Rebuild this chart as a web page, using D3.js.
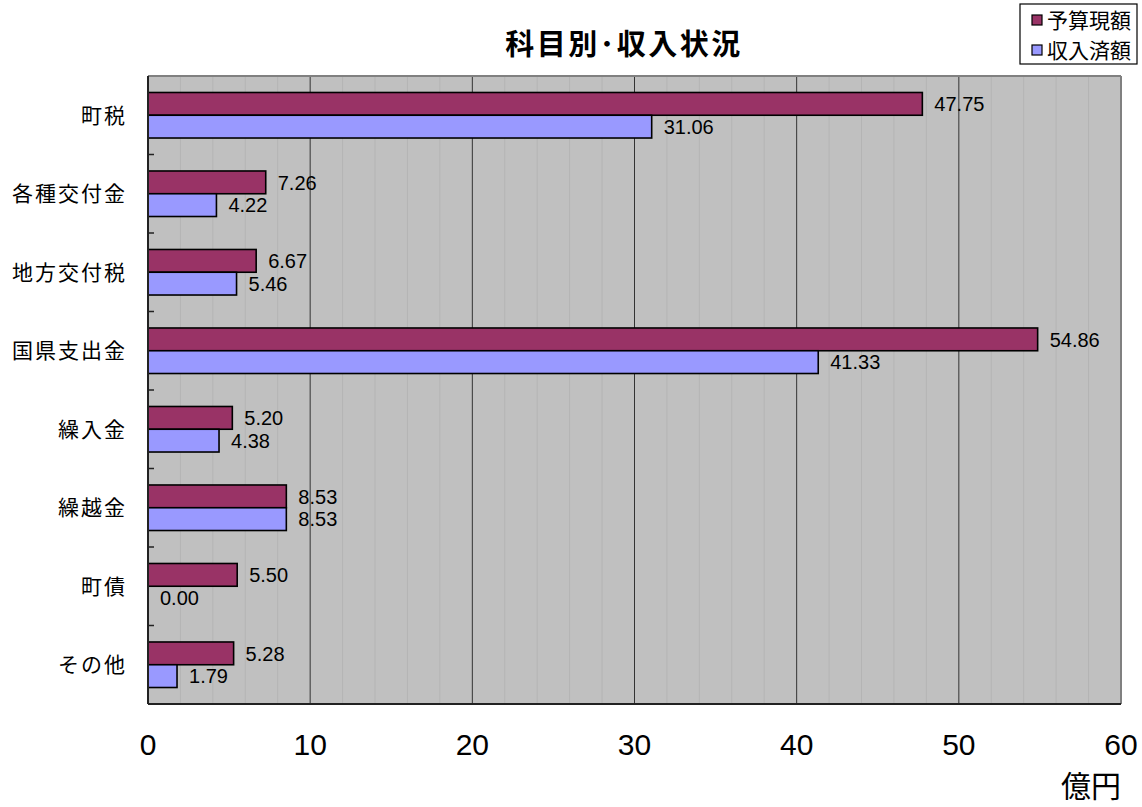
<!DOCTYPE html>
<html><head><meta charset="utf-8">
<script src="https://cdn.jsdelivr.net/npm/d3@7"></script>
<style>body{margin:0;background:#fff;} text{font-family:"Noto Sans CJK JP","Noto Sans",sans-serif;} .num{font-family:"Liberation Sans",Arial,sans-serif;}</style>
</head><body>
<svg id="c" width="1142" height="807"></svg>
<script>
const categories = ["町税","各種交付金","地方交付税","国県支出金","繰入金","繰越金","町債","その他"];
const seriesNames = ["予算現額","収入済額"];
const budget = [47.75,7.26,6.67,54.86,5.20,8.53,5.50,5.28];
const received = [31.06,4.22,5.46,41.33,4.38,8.53,0.00,1.79];
const xTicks = [0,10,20,30,40,50,60];
const colors = ["#993366","#9999FF"];

const svg = d3.select("#c");
const L=148, R=1121, T=76, B=704;
const x = d3.scaleLinear().domain([0,60]).range([L,R]);
const y = d3.scaleBand().domain(categories).range([T,B]);
const inner = d3.scaleBand().domain([0,1]).range([0,y.bandwidth()*0.58]);
const off = y.bandwidth()*0.21;

svg.append("rect").attr("x",L).attr("y",T).attr("width",R-L).attr("height",B-T).attr("fill","#c0c0c0");
// minor grid
svg.append("g").selectAll("line").data(d3.range(0,61,2).filter(v=>v%10!==0)).join("line")
  .attr("x1",d=>x(d)).attr("x2",d=>x(d)).attr("y1",T).attr("y2",B)
  .attr("stroke","#b4b4b4").attr("stroke-width",1);
// major grid
svg.append("g").selectAll("line").data(xTicks.filter(v=>v>0&&v<60)).join("line")
  .attr("x1",d=>x(d)).attr("x2",d=>x(d)).attr("y1",T).attr("y2",B)
  .attr("stroke","#333").attr("stroke-width",1);
// top/right borders
svg.append("line").attr("x1",L).attr("x2",R).attr("y1",T).attr("y2",T).attr("stroke","#808080").attr("stroke-width",2);
svg.append("line").attr("x1",R).attr("x2",R).attr("y1",T).attr("y2",B).attr("stroke","#808080").attr("stroke-width",2);

const data = categories.map((c,i)=>({c, vals:[budget[i],received[i]]}));
const g = svg.append("g").selectAll("g").data(data).join("g")
  .attr("transform",d=>`translate(0,${y(d.c)+off})`);
g.selectAll("rect").data(d=>d.vals.map((v,k)=>({v,k}))).join("rect")
  .attr("x",x(0)).attr("y",d=>inner(d.k)).attr("width",d=>x(d.v)-x(0)).attr("height",inner.bandwidth())
  .attr("fill",d=>colors[d.k]).attr("stroke","#000").attr("stroke-width",1.6);
g.selectAll("text").data(d=>d.vals.map((v,k)=>({v,k}))).join("text")
  .attr("class","num")
  .attr("x",d=>x(d.v)+12).attr("y",d=>inner(d.k)+inner.bandwidth()/2)
  .attr("dy","0.36em").attr("font-size",20).attr("fill","#000")
  .text(d=>d.v.toFixed(2));

// axes
svg.append("line").attr("x1",L).attr("x2",L).attr("y1",T).attr("y2",B).attr("stroke","#222").attr("stroke-width",2);
svg.append("line").attr("x1",L).attr("x2",R).attr("y1",B).attr("y2",B).attr("stroke","#222").attr("stroke-width",2);
svg.append("g").selectAll("line").data(categories.slice(1)).join("line")
  .attr("x1",L).attr("x2",L+6).attr("y1",d=>y(d)).attr("y2",d=>y(d)).attr("stroke","#222").attr("stroke-width",1.5);

svg.append("g").selectAll("text").data(categories).join("text")
  .attr("x",127).attr("y",d=>y(d)+y.bandwidth()/2).attr("dy","0.36em")
  .attr("text-anchor","end").attr("font-size",21).attr("letter-spacing",2).text(d=>d);

svg.append("g").selectAll("text").data(xTicks).join("text")
  .attr("class","num")
  .attr("x",d=>x(d)).attr("y",744).attr("dy","0.36em").attr("text-anchor","middle")
  .attr("font-size",30).text(d=>d);

svg.append("text").attr("x",1121).attr("y",786).attr("dy","0.36em").attr("text-anchor","end")
  .attr("font-size",30).text("億円");

svg.append("text").attr("x",624).attr("y",45).attr("dy","0.36em").attr("text-anchor","middle")
  .attr("font-size",29).attr("font-weight","bold").attr("letter-spacing",2.5).text("科目別･収入状況");

// legend
const lg = svg.append("g");
lg.append("rect").attr("x",1020).attr("y",4).attr("width",117).attr("height",60).attr("fill","#fff").attr("stroke","#000").attr("stroke-width",1.2);
const li = lg.selectAll("g").data(seriesNames).join("g").attr("transform",(d,i)=>`translate(1032,${20+i*30})`);
li.append("rect").attr("x",0).attr("y",-5).attr("width",10).attr("height",10).attr("fill",(d,i)=>colors[i]).attr("stroke","#000").attr("stroke-width",1.2);
li.append("text").attr("x",15).attr("y",0).attr("dy","0.36em").attr("font-size",21).text(d=>d);
</script>
</body></html>
